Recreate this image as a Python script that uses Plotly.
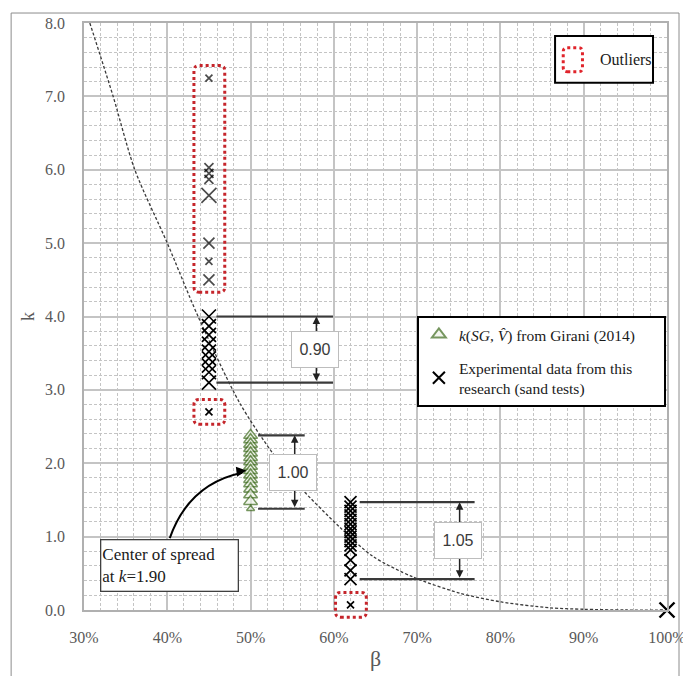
import plotly.graph_objects as go

# ---------------- data ----------------
# theoretical k(beta) curve (beta in %)
curve_beta = [30.7, 33.5, 36.1, 40.0, 43.7, 48.7, 52.7, 55.9, 60.7, 64.7, 69.5, 75.1, 80.1, 85.9, 90.0, 95.0, 100.0]
curve_k = [8.0, 7.0, 6.0, 5.0, 4.0, 2.82, 2.13, 1.68, 1.13, 0.73, 0.45, 0.23, 0.11, 0.03, 0.01, 0.0, 0.0]

# Girani (2014) k(SG, V^) values at beta = 50 %
girani_beta = 50.0
girani_k = [2.38, 2.32, 2.26, 2.20, 2.14, 2.08, 2.02, 1.96, 1.90, 1.84, 1.78, 1.72, 1.65, 1.57, 1.48, 1.38]

# experimental sand tests
exp45_beta = 45.0
exp45_k = [4.00, 3.87, 3.75, 3.63, 3.52, 3.43, 3.33, 3.24, 3.10]
exp62_beta = 62.0
exp62_k = [1.47, 1.41, 1.35, 1.29, 1.23, 1.17, 1.11, 1.06, 1.00, 0.94, 0.88, 0.82, 0.68, 0.54, 0.42]
exp100_beta = [100.0]
exp100_k = [0.0]

# outliers
out45_high_k = [7.25, 6.03, 5.95, 5.87, 5.65, 5.00, 4.75, 4.50]
out45_high_size = [7, 9, 9, 9, 15, 11, 7, 11]
out45_low_k = [2.70]
out62_low_k = [0.07]

center_of_spread = 1.90

x_ticks = [30, 40, 50, 60, 70, 80, 90, 100]
y_ticks = [0, 1, 2, 3, 4, 5, 6, 7, 8]

# ---------------- styling ----------------
SERIF = "'Liberation Serif', 'Times New Roman', Tinos, serif"
SANS = "'Liberation Sans', Arial, sans-serif"
GRID = "#c4c4c4"
RED = "#c5252b"
GREEN = "#3d6b1c"
DARK = "#3a3a3a"
PAD = "\u00a0" * 6

X_RANGE = (30, 100)
Y_RANGE = (0, 8)


def px(b):
    return (b - X_RANGE[0]) / (X_RANGE[1] - X_RANGE[0])


def py(k):
    return (k - Y_RANGE[0]) / (Y_RANGE[1] - Y_RANGE[0])


def rounded_rect(x0, x1, y0, y1, r=0.009):
    return (f"M {x0 + r},{y0} L {x1 - r},{y0} Q {x1},{y0} {x1},{y0 + r} "
            f"L {x1},{y1 - r} Q {x1},{y1} {x1 - r},{y1} L {x0 + r},{y1} "
            f"Q {x0},{y1} {x0},{y1 - r} L {x0},{y0 + r} Q {x0},{y0} {x0 + r},{y0} Z")


fig = go.Figure()

# dashed curve
fig.add_trace(go.Scatter(
    x=curve_beta, y=curve_k, mode="lines", showlegend=False, hoverinfo="skip",
    line=dict(color=DARK, width=1.3, dash="3px,2px", shape="spline", smoothing=0.8),
))

# Girani triangles (light fill so the stack reads as a column of outlines)
fig.add_trace(go.Scatter(
    x=[girani_beta] * len(girani_k), y=girani_k, mode="markers",
    name="<i>k</i>(<i>SG</i>, <i>V\u0302</i>) from Girani (2014)" + PAD,
    marker=dict(symbol="triangle-up", size=[12] * (len(girani_k) - 1) + [7],
                color="#eef3e8", line=dict(width=1.5, color=GREEN)),
    cliponaxis=False,
))

xmark = dict(symbol="x-thin", color="black", line=dict(width=1.7, color="black"))

fig.add_trace(go.Scatter(
    x=[exp45_beta] * len(exp45_k), y=exp45_k, mode="markers",
    name="Experimental data from this<br>research (sand tests)", legendgroup="exp",
    marker=dict(**xmark, size=14), cliponaxis=False,
))
fig.add_trace(go.Scatter(
    x=[exp62_beta] * len(exp62_k), y=exp62_k, mode="markers", legendgroup="exp",
    showlegend=False, marker=dict(**xmark, size=12), cliponaxis=False,
))
fig.add_trace(go.Scatter(
    x=[exp45_beta] * len(out45_high_k), y=out45_high_k, mode="markers", legendgroup="exp",
    showlegend=False, marker=dict(**xmark, size=out45_high_size), cliponaxis=False,
))
fig.add_trace(go.Scatter(
    x=[exp45_beta, exp62_beta], y=out45_low_k + out62_low_k, mode="markers", legendgroup="exp",
    showlegend=False, marker=dict(**xmark, size=7), cliponaxis=False,
))
fig.add_trace(go.Scatter(
    x=exp100_beta, y=exp100_k, mode="markers", legendgroup="exp", showlegend=False,
    marker=dict(symbol="x-thin", size=15, line=dict(width=2.4, color="black")), cliponaxis=False,
))

shapes = []
annotations = []

# dotted outlier boxes around the outlying points
for b, ks in [(exp45_beta, out45_high_k), (exp45_beta, out45_low_k), (exp62_beta, out62_low_k)]:
    shapes.append(dict(
        type="path", xref="paper", yref="paper",
        path=rounded_rect(px(b - 1.8), px(b + 1.9), py(min(ks) - 0.17), py(max(ks) + 0.17)),
        line=dict(color=RED, width=3, dash="dot"), layer="above",
    ))


# spread dimension markers
def spread(values, x0, x1, xarrow):
    top, bottom = max(values), min(values)
    for v in (top, bottom):
        shapes.append(dict(type="line", xref="x", yref="y", x0=x0, x1=x1, y0=v, y1=v,
                           line=dict(color=DARK, width=2.2), layer="above"))
    annotations.append(dict(
        x=xarrow, y=top, ax=xarrow, ay=bottom, xref="x", yref="y", axref="x", ayref="y",
        text="", showarrow=True, arrowhead=2, arrowside="end+start", arrowsize=1,
        arrowwidth=1.5, arrowcolor="#222", standoff=0, startstandoff=0,
    ))
    annotations.append(dict(
        x=xarrow - 0.2, y=(top + bottom) / 2, xref="x", yref="y",
        text=f"{top - bottom:.2f}", showarrow=False,
        font=dict(family=SANS, size=16, color=DARK),
        bgcolor="white", bordercolor="#bdbdbd", borderwidth=1, width=44, height=33,
    ))


spread(exp45_k, 45.9, 59.9, 57.9)
spread(girani_k, 50.9, 56.5, 55.3)
spread(exp62_k, 63.1, 76.9, 75.1)

# center-of-spread callout
shapes.append(dict(type="path", xref="x", yref="y",
                   path=f"M 40.3,0.98 Q 42.6,1.72 49.0,{center_of_spread - 0.03}",
                   line=dict(color="black", width=2), layer="above"))
annotations.append(dict(
    x=49.5, y=center_of_spread, xref="x", yref="y", ax=-8, ay=1, text="", showarrow=True,
    arrowhead=2, arrowsize=1, arrowwidth=2, arrowcolor="black", standoff=0,
))
annotations.append(dict(
    x=40.3, y=0.61, xref="x", yref="y", showarrow=False,
    text=f"Center of spread<br>at <i>k</i>={center_of_spread:.2f}", align="left",
    font=dict(family=SERIF, size=17, color="#1a1a1a"),
    bgcolor="white", bordercolor="#404040", borderwidth=1.3, width=134, height=48,
))

# outliers key
shapes.append(dict(type="rect", xref="paper", yref="paper", x0=0.808, x1=0.976, y0=0.898, y1=0.978,
                   line=dict(color="black", width=2), fillcolor="white", layer="above"))
shapes.append(dict(type="path", xref="paper", yref="paper",
                   path=rounded_rect(0.822, 0.855, 0.917, 0.958, 0.007),
                   line=dict(color="#e0242b", width=3, dash="dot"), layer="above"))
annotations.append(dict(x=0.882, y=0.938, xref="paper", yref="paper", xanchor="left", yanchor="middle",
                        text="Outliers", showarrow=False,
                        font=dict(family=SERIF, size=16, color="#1a1a1a")))

# outer frame
shapes.append(dict(type="rect", xref="paper", yref="paper", x0=-0.125, x1=1.0206, y0=-0.13, y1=1.017,
                   line=dict(color="#8c8c8c", width=1), layer="below"))

axis_common = dict(
    showgrid=True, gridcolor=GRID, gridwidth=1.5,
    showline=True, linecolor="#b0b0b0", linewidth=1.5, mirror=True,
    ticks="", zeroline=False, automargin=False, ticklabeloverflow="allow",
    tickfont=dict(family=SERIF, size=16, color="#595959"),
)

fig.update_layout(
    width=683, height=676,
    margin=dict(l=84, r=16, t=23, b=66),
    paper_bgcolor="white", plot_bgcolor="white",
    xaxis=dict(
        **axis_common, range=list(X_RANGE), tickvals=x_ticks,
        ticktext=[f"{v}%" for v in x_ticks], ticklabelstandoff=12,
        minor=dict(dtick=2, showgrid=True, gridcolor=GRID, gridwidth=1, griddash="3px,2px"),
        title=dict(text="\u03b2", font=dict(family=SERIF, size=22, color="#595959"), standoff=6),
    ),
    yaxis=dict(
        **axis_common, range=list(Y_RANGE), tickvals=y_ticks,
        ticktext=[f"{v:.1f}" for v in y_ticks], ticklabelstandoff=14,
        minor=dict(dtick=0.2, showgrid=True, gridcolor=GRID, gridwidth=1, griddash="3px,2px"),
        title=dict(text="k", font=dict(family=SERIF, size=18, color="#595959"), standoff=6),
    ),
    legend=dict(
        x=0.571, y=0.501, xanchor="left", yanchor="top",
        bgcolor="white", bordercolor="black", borderwidth=2,
        font=dict(family=SERIF, size=15.5, color="#1a1a1a"),
        itemsizing="constant", tracegroupgap=10,
    ),
    shapes=shapes, annotations=annotations,
)

fig.write_html("out.html")
